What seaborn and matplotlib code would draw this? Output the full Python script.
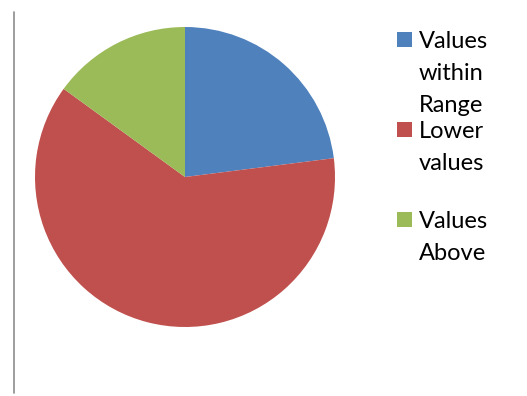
import matplotlib
matplotlib.use("Agg")
import matplotlib.pyplot as plt
from matplotlib.patches import Rectangle
from matplotlib.lines import Line2D
import seaborn as sns

# Share of readings in each band
categories = ["Values within Range", "Lower values", "Values Above"]
legend_labels = ["Values\nwithin\nRange", "Lower\nvalues", "Values\nAbove"]
shares = [23, 62, 15]
colors = ["#4F81BD", "#C0504D", "#9BBB59"]

sns.set_theme(style="white")
plt.rcParams["font.family"] = ["Lato", "DejaVu Sans"]

W, H = 527, 396
fig = plt.figure(figsize=(W / 100, H / 100), dpi=100)
fig.patch.set_facecolor("white")

# Pie: centre (185, 177) px, radius 150 px
cx, cy, r = 185, 177, 150
ax = fig.add_axes([(cx - r) / W, (H - cy - r) / H, 2 * r / W, 2 * r / H])
ax.pie(shares, colors=colors, startangle=90, counterclock=False,
       wedgeprops=dict(linewidth=0))
ax.set_aspect("equal")
ax.set_xlim(-1, 1)
ax.set_ylim(-1, 1)
ax.axis("off")

# Left border line of the chart area
fig.add_artist(Line2D([14 / W, 14 / W], [1 - 12 / H, 1 - 393 / H],
                      color="#8c8c8c", linewidth=1.2))

# Legend drawn entry by entry
first_baseline = 48
entry_step = 90
line_step = 32
for i, (label, color) in enumerate(zip(legend_labels, colors)):
    base = first_baseline + i * entry_step
    fig.add_artist(Rectangle((397 / W, 1 - (base - 1) / H), 15 / W, 15 / H,
                             facecolor=color, edgecolor="none",
                             transform=fig.transFigure))
    for j, line in enumerate(label.split("\n")):
        fig.text(419 / W, 1 - (base + j * line_step) / H, line,
                 fontsize=17, color="#000000", va="baseline", ha="left")

fig.savefig("out.png", dpi=100)
